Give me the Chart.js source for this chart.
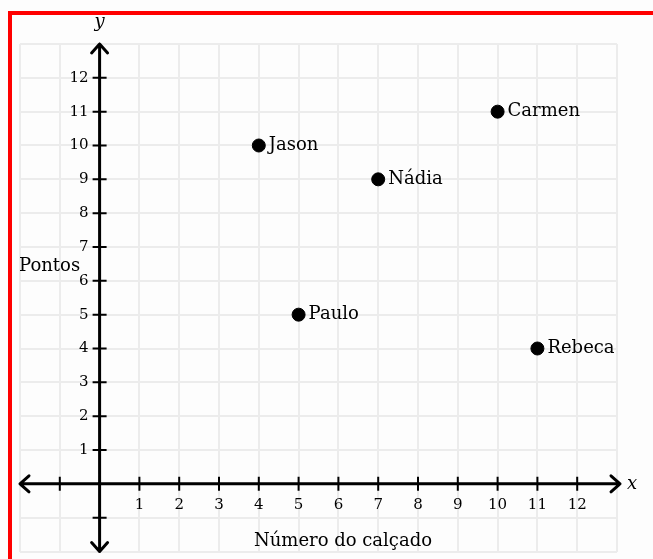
<!DOCTYPE html>
<html>
<head>
<meta charset="utf-8">
<script src="https://cdn.jsdelivr.net/npm/chart.js@4"></script>
<style>
  body { margin: 0; background: #fdfdfd; overflow: hidden; }
  #frame {
    position: absolute; left: 8px; top: 11px; width: 641px; height: 560px;
    border-top: 4px solid #ff0000; border-left: 4px solid #ff0000;
    border-right: 1px solid #ffc8c8;
  }
  #myChart { position: absolute; left: 0; top: 0; }
</style>
</head>
<body>
<div id="frame"></div>
<canvas id="myChart" width="653" height="559"></canvas>
<script>
// shoe size vs points
const names = ["Jason", "Paulo", "Nádia", "Carmen", "Rebeca"];
const shoeSize = [4, 5, 7, 10, 11];
const points = [10, 5, 9, 11, 4];

// axis ticks
const xTickMarks = [-1, 1, 2, 3, 4, 5, 6, 7, 8, 9, 10, 11, 12];
const yTickMarks = [-1, 1, 2, 3, 4, 5, 6, 7, 8, 9, 10, 11, 12];
const xTickLabels = ["1", "2", "3", "4", "5", "6", "7", "8", "9", "10", "11", "12"];
const yTickLabels = ["1", "2", "3", "4", "5", "6", "7", "8", "9", "10", "11", "12"];

const serif = "'DejaVu Serif', serif";

// draws the axes through the origin, with arrows and tick marks
const axesPlugin = {
  id: "axes",
  beforeDatasetsDraw(chart) {
    const ctx = chart.ctx;
    const xs = chart.scales.x;
    const ys = chart.scales.y;
    const x0 = xs.getPixelForValue(0);
    const y0 = ys.getPixelForValue(0);
    const left = xs.left, right = xs.right + 3;
    const top = ys.top, bottom = ys.bottom;
    ctx.save();
    ctx.strokeStyle = "#000";
    ctx.lineWidth = 3;
    ctx.lineCap = "round";
    ctx.lineJoin = "round";
    ctx.beginPath();
    ctx.moveTo(left, y0); ctx.lineTo(right, y0);
    ctx.moveTo(x0, top); ctx.lineTo(x0, bottom);
    // arrows
    ctx.moveTo(left + 9, y0 - 8); ctx.lineTo(left, y0); ctx.lineTo(left + 9, y0 + 8);
    ctx.moveTo(right - 9, y0 - 8); ctx.lineTo(right, y0); ctx.lineTo(right - 9, y0 + 8);
    ctx.moveTo(x0 - 8, top + 9); ctx.lineTo(x0, top); ctx.lineTo(x0 + 8, top + 9);
    ctx.moveTo(x0 - 8, bottom - 9); ctx.lineTo(x0, bottom); ctx.lineTo(x0 + 8, bottom - 9);
    ctx.stroke();
    ctx.lineWidth = 2;
    ctx.lineCap = "butt";
    ctx.beginPath();
    xTickMarks.forEach(v => {
      const px = xs.getPixelForValue(v);
      ctx.moveTo(px, y0 - 7); ctx.lineTo(px, y0 + 7);
    });
    yTickMarks.forEach(v => {
      const py = ys.getPixelForValue(v);
      ctx.moveTo(x0 - 7, py); ctx.lineTo(x0 + 7, py);
    });
    ctx.stroke();

    ctx.fillStyle = "#000";
    ctx.font = "15px " + serif;
    ctx.textAlign = "center";
    ctx.textBaseline = "middle";
    xTickLabels.forEach(t => {
      ctx.fillText(t, xs.getPixelForValue(Number(t)), y0 + 21);
    });
    ctx.textAlign = "right";
    yTickLabels.forEach(t => {
      ctx.fillText(t, x0 - 11, ys.getPixelForValue(Number(t)));
    });

    // axis names
    ctx.font = "18px " + serif;
    ctx.textAlign = "left";
    ctx.fillText("Pontos", 19, 266);
    ctx.textAlign = "center";
    ctx.fillText("Número do calçado", 343, 541);
    ctx.font = "italic 18px " + serif;
    ctx.fillText("y", x0, 22);
    ctx.fillText("x", 632, y0);
    ctx.restore();
  },
  afterDatasetsDraw(chart) {
    const ctx = chart.ctx;
    const meta = chart.getDatasetMeta(0);
    ctx.save();
    ctx.fillStyle = "#000";
    ctx.font = "18px " + serif;
    ctx.textAlign = "left";
    ctx.textBaseline = "middle";
    meta.data.forEach((pt, i) => {
      ctx.fillText(names[i], pt.x + 10, pt.y);
    });
    ctx.restore();
  }
};

const ctx = document.getElementById("myChart");
const myChart = new Chart(ctx, {
  type: "scatter",
  data: {
    datasets: [
      {
        label: "Pontos",
        data: shoeSize.map((s, i) => ({ x: s, y: points[i] })),
        backgroundColor: "#000",
        borderColor: "#000",
        pointRadius: 6.5,
        pointHoverRadius: 6.5,
      },
    ],
  },
  options: {
    responsive: false,
    animation: false,
    devicePixelRatio: 1,
    layout: { padding: { left: 20, right: 36, top: 44, bottom: 3 } },
    plugins: { legend: { display: false }, tooltip: { enabled: false } },
    scales: {
      x: {
        type: "linear",
        min: -2,
        max: 13,
        ticks: { display: false, stepSize: 1 },
        border: { display: false },
        grid: { color: "#ececec", lineWidth: 2, drawTicks: false },
        afterFit(scale) { scale.height = 0; },
      },
      y: {
        type: "linear",
        min: -2,
        max: 13,
        ticks: { display: false, stepSize: 1 },
        border: { display: false },
        grid: { color: "#ececec", lineWidth: 2, drawTicks: false },
        afterFit(scale) { scale.width = 0; },
      },
    },
  },
  plugins: [axesPlugin],
});
</script>
</body>
</html>
